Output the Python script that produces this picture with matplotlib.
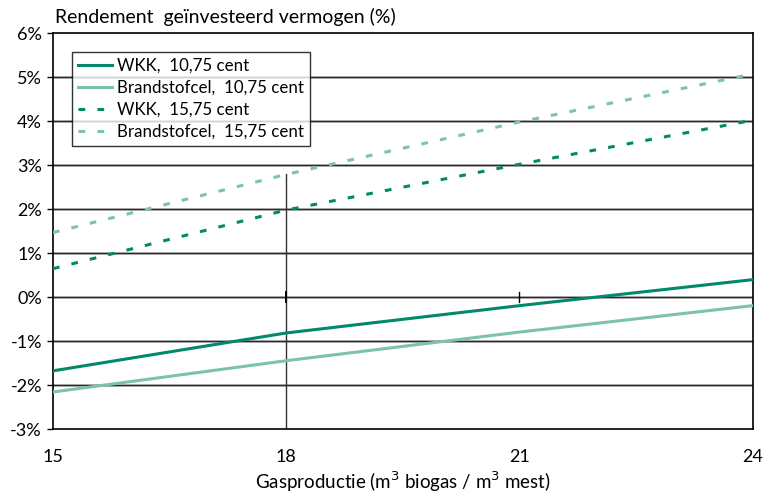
import numpy as np
import matplotlib.pyplot as plt

plt.rcParams['font.family'] = ['Lato', 'DejaVu Sans']

# gasproductie (m3 biogas / m3 mest)
gas = [15, 18, 21, 24]

# rendement geinvesteerd vermogen (%)
wkk_1075 = [-1.67, -0.81, -0.19, 0.40]
bsc_1075 = [-2.15, -1.44, -0.79, -0.19]
wkk_1575 = [0.65, 1.98, 3.02, 4.02]
bsc_1575 = [1.47, 2.79, 3.98, 5.07]

labels = ['WKK,  10,75 cent', 'Brandstofcel,  10,75 cent',
          'WKK,  15,75 cent', 'Brandstofcel,  15,75 cent']

yticks = [-3, -2, -1, 0, 1, 2, 3, 4, 5, 6]
xticks = [15, 18, 21, 24]

donker = '#008a69'
licht = '#7cc3ae'

fig = plt.figure(figsize=(7.67, 4.92), dpi=100)
ax = fig.add_axes([0.0691, 0.1272, 0.9122, 0.8057])

# rasterlijnen
for y in yticks[1:-1]:
    ax.axhline(y, color='#b0b0b0', lw=2.0, zorder=1)
    ax.axhline(y, color='#2a2a2a', lw=0.9, zorder=1)

# verticale hulplijn bij 18 en streepjes op de 0-lijn
ax.plot([18, 18], [-3, bsc_1575[1]], color='#333333', lw=1.0, zorder=2)
ax.plot([21, 21], [-0.1, 0.12], color='black', lw=1.0, zorder=2)
ax.plot([18, 18], [-0.1, 0.12], color='black', lw=1.4, zorder=2)

ax.plot(gas, wkk_1075, color=donker, lw=2.2, label=labels[0], zorder=3)
ax.plot(gas, bsc_1075, color=licht, lw=2.2, label=labels[1], zorder=3)
ax.plot(gas, wkk_1575, color=donker, lw=2.2, dashes=(2.2, 4.0), label=labels[2], zorder=3)
ax.plot(gas, bsc_1575, color=licht, lw=2.2, dashes=(2.2, 4.0), label=labels[3], zorder=3)

ax.set_xlim(15, 24)
ax.set_ylim(-3, 6)
ax.set_xticks(xticks)
ax.set_yticks(yticks)
ax.set_yticklabels([f'{v}%' for v in yticks])
ax.tick_params(axis='y', length=4, width=1, labelsize=13, pad=4)
ax.tick_params(axis='x', length=0, labelsize=13, pad=14)
for s in ax.spines.values():
    s.set_color('black')
    s.set_linewidth(1.2)

leg = ax.legend(loc='upper left', bbox_to_anchor=(0.027, 0.953), fontsize=12.2,
                frameon=True, fancybox=False, edgecolor='black', handlelength=2.0,
                handletextpad=0.3, borderpad=0.35, labelspacing=0.36, borderaxespad=0)
leg.get_frame().set_linewidth(1.0)

fig.text(0.072, 0.965, 'Rendement  geïnvesteerd vermogen (%)', fontsize=14, va='center', ha='left')
ax.set_xlabel('Gasproductie (m$^3$ biogas / m$^3$ mest)', fontsize=13.5, labelpad=3)

plt.savefig('out.png', dpi=100)
